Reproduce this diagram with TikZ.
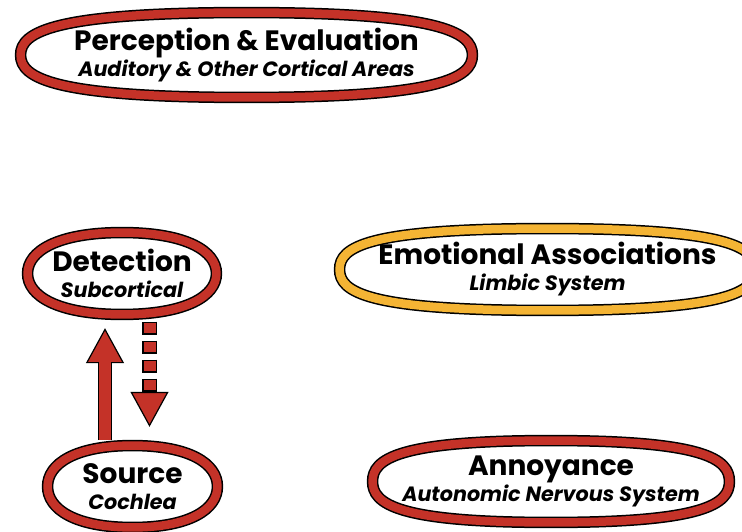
\documentclass[tikz,border=0pt]{standalone}
\usepackage{fontspec}
\setmainfont{Poppins}
\usetikzlibrary{calc,arrows.meta,backgrounds}
\definecolor{ringred}{RGB}{196,50,40}
\definecolor{ringgold}{RGB}{244,180,52}
\newcommand\nodetitle{\bfseries\upshape\fontsize{28}{26}\selectfont}
\newcommand\nodesub{\bfseries\itshape\fontsize{20.7}{26}\selectfont}
\begin{document}
\begin{tikzpicture}[x=1pt, y=1pt,
  box/.style = {shape=rectangle, inner sep=0pt, align=center, font=\nodesub},
  ring/.style = {draw=black, line width=1.5pt, double distance=8.5pt, fill=white},
  bigtip/.style = {-{Triangle[length=35pt, width=38pt, fill=ringred, line width=1.2pt]}}]
  \useasboundingbox (0,0) rectangle (742,531);

  \node[box, minimum width=451.5pt, minimum height=84.5pt] (perc) at (246.5,476)
    {{\nodetitle Perception \& Evaluation}\\{\nodesub Auditory \& Other Cortical Areas}};
  \node[box, minimum width=188.5pt, minimum height=81.5pt] (det) at (122,257.5)
    {{\nodetitle Detection}\\{\nodesub Subcortical}};
  \node[box, minimum width=169.5pt, minimum height=81.5pt] (src) at (132.5,44.5)
    {{\nodetitle Source}\\{\nodesub Cochlea}};
  \node[box, minimum width=415.5pt, minimum height=81.5pt] (emo) at (547.5,261.5)
    {{\nodetitle Emotional Associations}\\{\nodesub Limbic System}};
  \node[box, minimum width=356.5pt, minimum height=81.5pt] (ann) at (551,49.5)
    {{\nodetitle Annoyance}\\{\nodesub Autonomic Nervous System}};

  % rings: \a = pull at the ends, \b = pull along top and bottom
  \begin{scope}[on background layer]
    \foreach \n/\c/\a/\b in {perc/ringred/0.55/0.85, det/ringred/0.55/0.68, src/ringred/0.55/0.68,
                             emo/ringgold/0.55/0.87, ann/ringred/0.55/0.86}
      \draw[ring, double=\c] (\n.east)
        .. controls ($(\n.east)!\a!(\n.north east)$) and ($(\n.north)!\b!(\n.north east)$) .. (\n.north)
        .. controls ($(\n.north)!\b!(\n.north west)$) and ($(\n.west)!\a!(\n.north west)$) .. (\n.west)
        .. controls ($(\n.west)!\a!(\n.south west)$) and ($(\n.south)!\b!(\n.south west)$) .. (\n.south)
        .. controls ($(\n.south)!\b!(\n.south east)$) and ($(\n.east)!\a!(\n.south east)$) .. (\n.east)
        -- cycle;
  \end{scope}

  % source up to detection
  \draw[bigtip, line width=14pt] ([xshift=-27.5pt,yshift=5.75pt]src.north) -- ([xshift=-17pt,yshift=-13.75pt]det.south);
  \draw[ringred, line width=11.4pt, shorten >=34pt] ([xshift=-27.5pt,yshift=5.75pt]src.north) -- ([xshift=-17pt,yshift=-13.75pt]det.south);

  % feedback, dashed
  \draw[bigtip, line width=15pt, dash pattern=on 13pt off 6pt, dash phase=17.5pt]
    ([xshift=27.5pt,yshift=-5.75pt]det.south) -- ([xshift=17pt,yshift=18.75pt]src.north);
  \draw[ringred, line width=12pt, dash pattern=on 10pt off 9pt, dash phase=16pt, shorten >=34pt]
    ([xshift=27.5pt,yshift=-5.75pt]det.south) -- ([xshift=17pt,yshift=18.75pt]src.north);
\end{tikzpicture}
\end{document}
